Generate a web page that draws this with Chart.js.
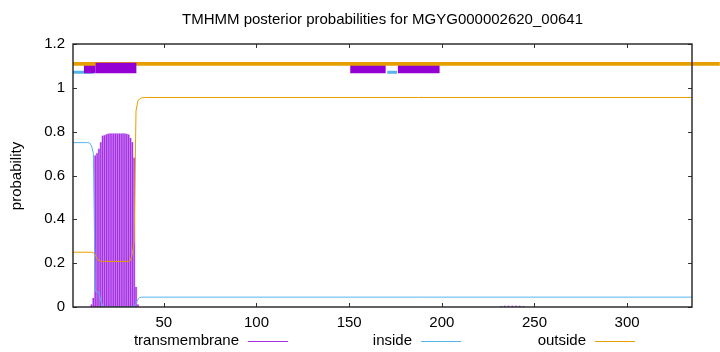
<!DOCTYPE html>
<html><head><meta charset="utf-8">
<script src="https://cdn.jsdelivr.net/npm/chart.js@4/dist/chart.umd.min.js"></script>
<style>html,body{margin:0;padding:0;background:#fff}</style>
</head><body>
<canvas id="c" width="720" height="352"></canvas>
<script>
const titleText = 'TMHMM posterior probabilities for MGYG000002620_00641';
const yAxisLabel = 'probability';
const seriesNames = ['transmembrane', 'inside', 'outside'];
const xTickValues = [50, 100, 150, 200, 250, 300];
const yTickValues = [0, 0.2, 0.4, 0.6, 0.8, 1, 1.2];
const seqLength = 335;

// transmembrane posterior per residue (zero elsewhere)
const tmResidues = [11, 12, 13, 14, 15, 16, 17, 18, 19, 20, 21, 22, 23, 24, 25, 26, 27, 28, 29, 30, 31, 32, 33, 34, 35, 36,
  232, 234, 236, 238, 240, 242, 244];
const tmValues = [0.01, 0.04, 0.69, 0.70, 0.72, 0.75, 0.78, 0.782, 0.786, 0.789, 0.79, 0.79, 0.79, 0.79, 0.79, 0.79, 0.79, 0.79, 0.79, 0.788, 0.785, 0.77, 0.75, 0.68, 0.09, 0.01,
  0.003, 0.004, 0.004, 0.004, 0.004, 0.004, 0.003];

// inside posterior (residue, value)
const insideResidues = [1, 9, 10, 11, 12, 13, 14, 15, 16, 17, 18, 19, 32, 33, 34, 35, 36, 37, 38, 335];
const insideValues = [0.75, 0.75, 0.748, 0.735, 0.70, 0.072, 0.07, 0.065, 0.03, 0.005, 0.001, 0, 0, 0.001, 0.003, 0.015, 0.035, 0.043, 0.045, 0.045];

// outside posterior (residue, value)
const outsideResidues = [1, 11, 12, 13, 14, 15, 16, 17, 31, 32, 33, 34, 35, 36, 37, 38, 40, 335];
const outsideValues = [0.25, 0.25, 0.248, 0.238, 0.22, 0.212, 0.209, 0.208, 0.208, 0.212, 0.24, 0.30, 0.895, 0.94, 0.95, 0.954, 0.956, 0.956];

// predicted topology segments [start, end] in residues
const topOutside = [[1, 350]];
const topInside = [[1, 11.8], [170.6, 175.8]];
const topTM = [[6.9, 13.2], [150.6, 169.7], [176.3, 198.8]];
const topTMCore = [[13.2, 35.2]];

const FONT = '"Liberation Sans", Arial, Helvetica, sans-serif';
const COL_TM = '#9400d3', COL_TM_LINE = '#a52ee6', COL_TM_FILL = '#deb2f4';
const COL_IN = '#56b4e9', COL_OUT = '#e69f00';

function pts(xs, ys) { return xs.map((v, i) => ({ x: v, y: ys[i] })); }
function segs(ranges, level) {
  const out = [];
  ranges.forEach((r, i) => {
    if (i > 0) out.push({ x: (ranges[i - 1][1] + r[0]) / 2, y: null });
    out.push({ x: r[0], y: level }, { x: r[1], y: level });
  });
  return out;
}

const deco = {
  id: 'deco',
  afterDatasetsDraw(chart) {
    const { ctx, chartArea: a, scales: { x, y } } = chart;
    ctx.save();
    ctx.strokeStyle = '#333'; ctx.lineWidth = 1;
    ctx.beginPath();
    yTickValues.forEach(v => {
      const py = Math.round(y.getPixelForValue(v)) + 0.5;
      ctx.moveTo(a.left, py); ctx.lineTo(a.left + 4, py);
      ctx.moveTo(a.right, py); ctx.lineTo(a.right - 4, py);
    });
    xTickValues.forEach(v => {
      const px = Math.round(x.getPixelForValue(v)) + 0.5;
      ctx.moveTo(px, a.bottom); ctx.lineTo(px, a.bottom - 4);
      ctx.moveTo(px, a.top); ctx.lineTo(px, a.top + 4);
    });
    ctx.stroke();
    ctx.strokeStyle = '#222'; ctx.lineWidth = 1.4;
    ctx.strokeRect(a.left, a.top, a.right - a.left, a.bottom - a.top);
    ctx.restore();
  },
  afterDraw(chart) {
    const { ctx, chartArea: a } = chart;
    ctx.save();
    ctx.fillStyle = '#000';
    ctx.font = '15px ' + FONT;
    ctx.textAlign = 'center'; ctx.textBaseline = 'middle';
    ctx.fillText(titleText, (a.left + a.right) / 2, 20);
    ctx.save();
    ctx.translate(17, 176); ctx.rotate(-Math.PI / 2);
    ctx.fillText(yAxisLabel, 0, 0);
    ctx.restore();
    const cols = [COL_TM_LINE, COL_IN, COL_OUT];
    const ends = [239, 412, 586];
    ctx.textAlign = 'right';
    seriesNames.forEach((n, i) => {
      ctx.fillText(n, ends[i], 341);
      ctx.strokeStyle = cols[i]; ctx.lineWidth = 1;
      ctx.beginPath(); ctx.moveTo(ends[i] + 9, 341.5); ctx.lineTo(ends[i] + 49, 341.5); ctx.stroke();
    });
    ctx.restore();
  }
};

new Chart(document.getElementById('c'), {
  data: {
    datasets: [
      { type: 'line', label: 'tmCore', data: segs(topTMCore, 1.091), borderColor: COL_TM, borderWidth: 10.5, pointRadius: 0, order: 0, borderCapStyle: 'butt' },
      { type: 'line', label: 'outTop', data: segs(topOutside, 1.1094), borderColor: COL_OUT, borderWidth: 3.8, pointRadius: 0, order: 1, clip: false, borderCapStyle: 'butt' },
      { type: 'line', label: 'tmTop', data: segs(topTM, 1.0857), borderColor: COL_TM, borderWidth: 8.2, pointRadius: 0, order: 2, borderCapStyle: 'butt' },
      { type: 'line', label: 'inTop', data: segs(topInside, 1.0713), borderColor: COL_IN, borderWidth: 3, pointRadius: 0, order: 3, borderCapStyle: 'butt' },
      { type: 'line', label: seriesNames[2], data: pts(outsideResidues, outsideValues), borderColor: COL_OUT, borderWidth: 1, pointRadius: 0, order: 4 },
      { type: 'line', label: seriesNames[1], data: pts(insideResidues, insideValues), borderColor: COL_IN, borderWidth: 1, pointRadius: 0, order: 5 },
      { type: 'bar', label: 'tmLine', data: pts(tmResidues, tmValues), backgroundColor: COL_TM_LINE, barThickness: 0.7, grouped: false, order: 6 },
      { type: 'bar', label: seriesNames[0], data: pts(tmResidues, tmValues), backgroundColor: COL_TM_FILL, barPercentage: 1, categoryPercentage: 1, grouped: false, order: 7 }
    ]
  },
  options: {
    responsive: false, devicePixelRatio: 1, animation: false,
    spanGaps: false,
    layout: { padding: { left: 0, right: 28, top: 44, bottom: 0 } },
    plugins: { legend: { display: false }, title: { display: false }, tooltip: { enabled: false } },
    scales: {
      x: {
        type: 'linear', min: 1, max: seqLength, offset: false,
        grid: { display: false, drawTicks: false, offset: false }, border: { display: false },
        afterBuildTicks: s => { s.ticks = xTickValues.map(v => ({ value: v })); },
        afterFit: s => { s.height = 45; },
        ticks: { color: '#000', font: { family: FONT, size: 15 }, padding: 7, maxRotation: 0, autoSkip: false }
      },
      y: {
        type: 'linear', min: 0, max: 1.2,
        grid: { display: false, drawTicks: false }, border: { display: false },
        afterBuildTicks: s => { s.ticks = yTickValues.map(v => ({ value: v })); },
        afterFit: s => { s.width = 73; },
        ticks: { color: '#000', font: { family: FONT, size: 15 }, padding: 8, callback: v => String(Number(v.toFixed(2))) }
      }
    }
  },
  plugins: [deco]
});
</script>
</body></html>
